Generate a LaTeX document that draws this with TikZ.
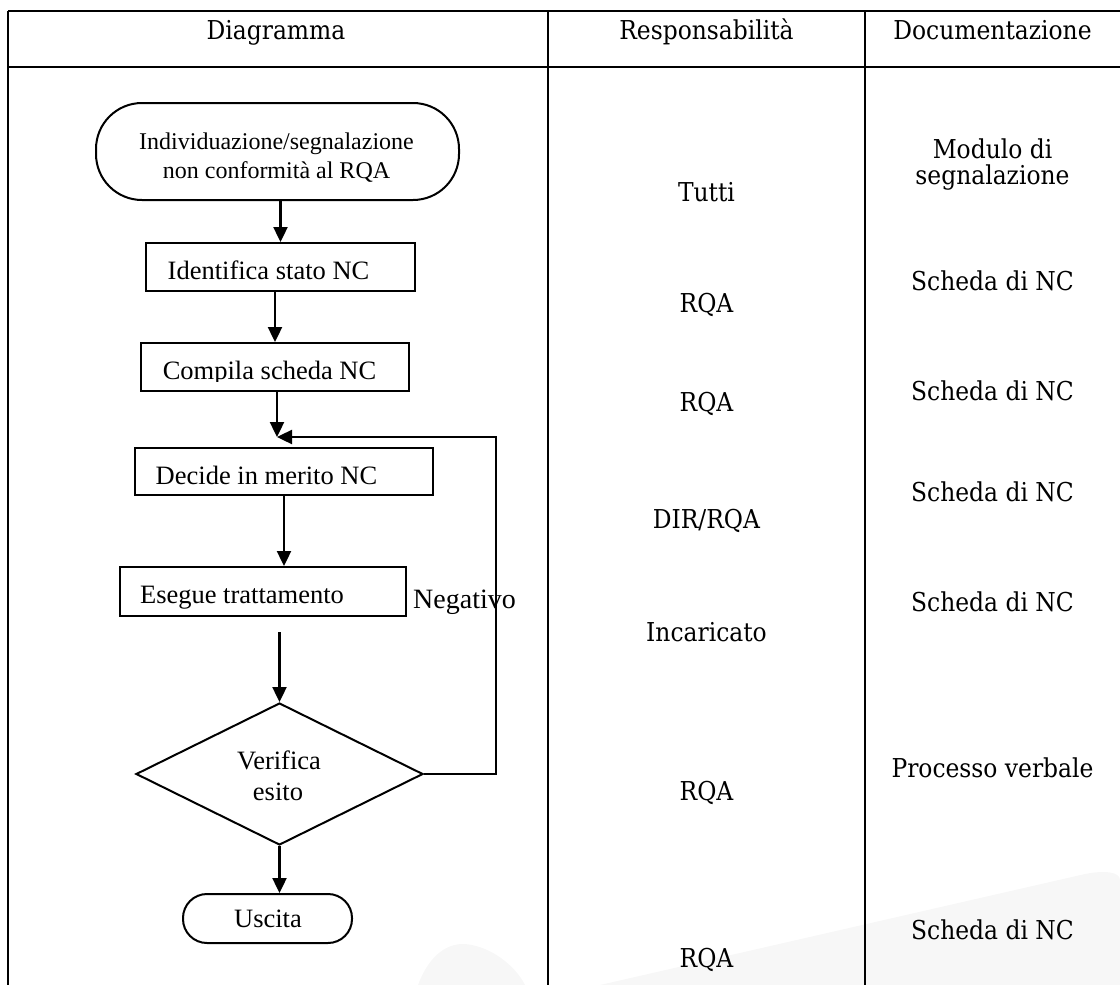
\documentclass[tikz,border=0pt]{standalone}
\usepackage{fontspec}
\setmainfont{Liberation Serif}
\newfontfamily\colfont{DejaVu Serif Condensed}
\usetikzlibrary{arrows.meta,shapes.geometric,calc}
\begin{document}
\begin{tikzpicture}[x=1pt,y=-1pt,
  tbl/.style={line width=2.8pt},
  box/.style={draw, line width=2pt, inner sep=0pt},
  arr/.style={line width=2.4pt, -{Triangle[length=15pt,width=14pt]}},
  ftxt/.style={font=\fontsize{26.5}{30}\selectfont, inner sep=0pt, anchor=base},
  stxt/.style={font=\fontsize{24}{28}\selectfont, inner sep=0pt, anchor=base},
  ctxt/.style={font=\colfont\fontsize{26}{28}\selectfont, inner sep=0pt, anchor=base}]
\useasboundingbox (0,0) rectangle (1120,985);
% faint watermark
\fill[black!3] (600,985) -- (1085,874) .. controls (1105,870) and (1120,872) .. (1120,880) -- (1120,985) -- cycle;
\fill[black!3] (418,985) .. controls (428,958) and (445,943) .. (465,944) .. controls (490,946) and (515,965) .. (525,985) -- cycle;
% table frame
\draw[tbl] (8,11) -- (1121,11);
\draw[tbl] (8,67) -- (1121,67);
\draw[tbl] (8,11) -- (8,986);
\draw[tbl] (548,11) -- (548,986);
\draw[tbl] (865,11) -- (865,986);
% headers
\node[ctxt] (h1) at (276,39) {Diagramma};
\node[ctxt] (h2) at (706.5,39) {Responsabilità};
\node[ctxt] (h3) at (992.5,39) {Documentazione};
% flowchart shapes
\node[box, rounded corners=46pt, minimum width=363pt, minimum height=97pt] (st) at (277.5,151.5) {};
\node[stxt] (st1) at (276.5,149) {Individuazione/segnalazione};
\node[stxt] (st2) at (276.5,178) {non conformità al RQA};
\node[box, minimum width=269pt, minimum height=48pt] (id) at (280.5,267) {};
\node[ftxt] (idt) at (268.5,279) {Identifica stato NC};
\node[box, minimum width=268pt, minimum height=48pt] (cs) at (275,367) {};
\begin{scope}
\clip (cs.north west) rectangle ([yshift=11pt]cs.south east);
\node[ftxt] (cst) at (269.5,379) {Compila scheda NC};
\end{scope}
\node[box, minimum width=298pt, minimum height=47pt] (dec) at (284,471.5) {};
\node[ftxt] (dect) at (266.5,484) {Decide in merito NC};
\node[box, minimum width=286pt, minimum height=49pt] (es) at (263,591.5) {};
\node[ftxt] (est) at (242,603) {Esegue trattamento};
\node[box, diamond, minimum width=287pt, minimum height=142pt] (ver) at (279.5,774) {};
\node[ftxt] (vert1) at (279,769) {Verifica};
\node[ftxt] (vert2) at (278,800) {esito};
\node[box, rounded corners=24pt, minimum width=169pt, minimum height=49pt] (ex) at (267.5,918.5) {};
\node[ftxt] (ext) at (268,927) {Uscita};
\node[font=\fontsize{28}{30}\selectfont, inner sep=0pt, anchor=base] (neg) at (464.5,608) {Negativo};
% connectors
\coordinate (m) at (277,437);
\coordinate (lp) at (496,437);
\draw[arr] (st.south -| id.north) -- (id.north);
\draw[arr] (id.south -| cs.north) -- (cs.north);
\draw[arr] (cs.south -| m) -- (m);
\draw[arr] (ver.east) -| (lp) -- (m);
\draw[arr] (dec.south) -- (dec.south |- es.north);
\draw[arr] ([yshift=-15pt]es.south -| ver.north) -- (ver.north);
\draw[arr] (ver.south) -- (ver.south |- ex.north);
% responsibilities
\node[ctxt] (r1) at (706.5,201) {Tutti};
\node[ctxt] (r2) at (706.5,312) {RQA};
\node[ctxt] (r3) at (706.5,411) {RQA};
\node[ctxt] (r4) at (706.5,528) {DIR/RQA};
\node[ctxt] (r5) at (706.5,641) {Incaricato};
\node[ctxt] (r6) at (706.5,800) {RQA};
\node[ctxt] (r7) at (706.5,967) {RQA};
% documentation
\node[ctxt] (d1a) at (992.5,158) {Modulo di};
\node[ctxt] (d1b) at (992.5,184) {segnalazione};
\node[ctxt] (d2) at (992.5,290) {Scheda di NC};
\node[ctxt] (d3) at (992.5,400) {Scheda di NC};
\node[ctxt] (d4) at (992.5,501) {Scheda di NC};
\node[ctxt] (d5) at (992.5,611) {Scheda di NC};
\node[ctxt] (d6) at (992.5,777) {Processo verbale};
\node[ctxt] (d7) at (992.5,939) {Scheda di NC};
\end{tikzpicture}
\end{document}
